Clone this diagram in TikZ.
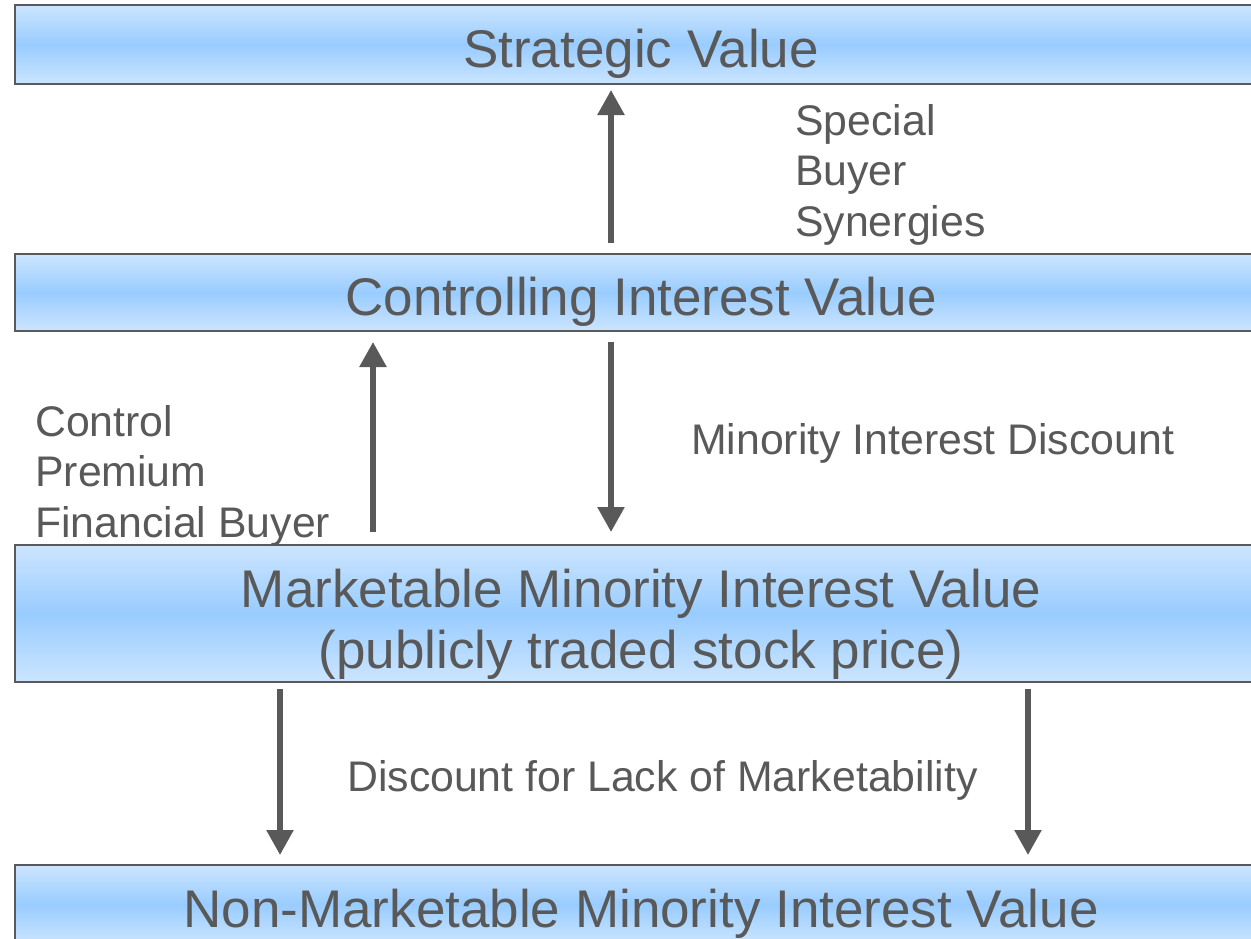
\documentclass[tikz,border=0pt]{standalone}
\usepackage{fontspec}
\setmainfont{Liberation Sans}
\usepackage{tikz}
\usetikzlibrary{arrows.meta}
\definecolor{boxtop}{HTML}{CCE5FF}
\definecolor{boxmid}{HTML}{99CCFF}
\definecolor{boxline}{HTML}{5A5A5A}
\definecolor{inkgray}{HTML}{595959}
\tikzset{
  valbox/.style={rectangle, draw=boxline, line width=2.5pt, outer sep=0pt,
    top color=boxtop, bottom color=boxtop, middle color=boxmid,
    minimum width=1252pt, inner sep=0pt, text=inkgray, align=center,
    font=\fontsize{53}{61}\selectfont},
  oneline/.style={text height=45pt, text depth=0pt},
  sidenote/.style={text=inkgray, font=\fontsize{42.8}{50.5}\selectfont,
    align=left, inner sep=0pt, anchor=base west},
  flow/.style={draw=inkgray, line width=5.5pt,
    -{Triangle[width=26pt,length=25pt]}},
}

\begin{document}
\begin{tikzpicture}[x=1pt,y=-1pt]
\path[use as bounding box, clip] (0,0) rectangle (1251,938);
% Value levels
\node[valbox, oneline, minimum height=79pt] (sv) at (641,44.5) {Strategic Value};
\node[valbox, oneline, minimum height=77pt] (cv) at (641,292.5) {Controlling Interest Value};
\node[valbox, text height=109pt, text depth=0pt, minimum height=137pt] (mv) at (641,613.5)
  {Marketable Minority Interest Value\\(publicly traded stock price)};
\node[valbox, oneline, minimum height=79pt] (nv) at (641,904.5) {Non-Marketable Minority Interest Value};
% Arrow columns
\coordinate (colA) at (280,0);
\coordinate (colB) at (373,0);
\coordinate (colC) at (611,0);
\coordinate (colD) at (1028,0);
% Arrows between levels
\draw[flow, shorten <=11pt, shorten >=6pt] (colC |- cv.north) -- (colC |- sv.south);
\draw[flow, shorten <=13pt, shorten >=11pt] (colB |- mv.north) -- (colB |- cv.south);
\draw[flow, shorten <=11pt, shorten >=13pt] (colC |- cv.south) -- (colC |- mv.north);
\draw[flow, shorten <=7pt, shorten >=10pt] (colA |- mv.south) -- (colA |- nv.north);
\draw[flow, shorten <=7pt, shorten >=10pt] (colD |- mv.south) -- (colD |- nv.north);
% Labels (anchored on the last line)
\node[sidenote] (syn) at (795,236) {Special\\Buyer\\Synergies};
\node[sidenote] (prem) at (35,537) {Control\\Premium\\Financial Buyer};
\node[sidenote] (mid) at (691,454) {Minority Interest Discount};
\node[sidenote] (dlom) at (347,791) {Discount for Lack of Marketability};
\end{tikzpicture}
\end{document}
